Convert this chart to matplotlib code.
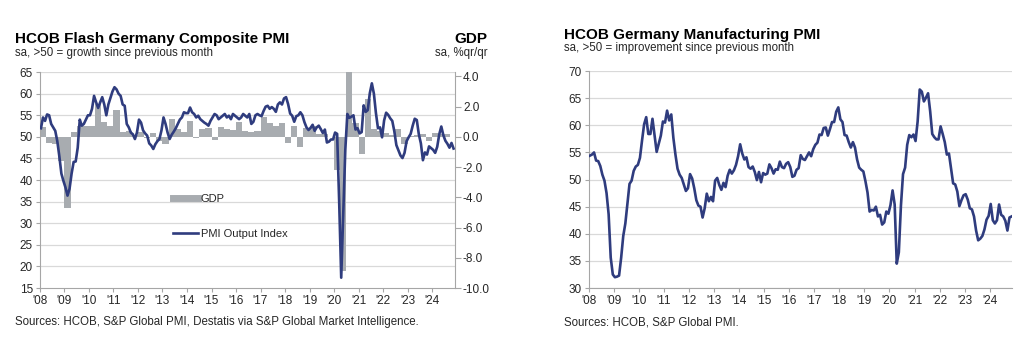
import numpy as np
import matplotlib
matplotlib.use("Agg")
import matplotlib.pyplot as plt
from matplotlib.lines import Line2D

plt.rcParams['font.family'] = ['Liberation Sans', 'DejaVu Sans']
plt.rcParams['axes.unicode_minus'] = False

# Composite PMI output index, monthly Jan 2008 - Nov 2024
composite = [
    52.0, 54.5, 53.7, 55.2, 55.0, 53.0, 52.2, 51.4, 49.0, 45.5, 41.5, 39.8,  # 2008
    38.3, 36.4, 38.0, 41.5, 44.2, 44.3, 47.5, 54.0, 52.6, 53.0, 54.0, 55.0,  # 2009
    55.0, 56.5, 59.5, 58.0, 56.7, 58.0, 59.2, 57.5, 55.0, 57.5, 59.0, 60.5,  # 2010
    61.5, 61.0, 60.0, 59.5, 57.5, 57.2, 53.0, 52.2, 51.0, 50.6, 49.5, 51.0,  # 2011
    54.0, 53.3, 51.5, 50.8, 50.3, 48.5, 48.0, 47.2, 48.3, 49.0, 49.5, 51.5,  # 2012
    54.5, 53.0, 51.0, 49.5, 50.5, 51.2, 52.0, 53.0, 54.0, 54.5, 55.7, 55.5,  # 2013
    55.5, 56.8, 55.7, 55.3, 54.5, 54.9, 54.1, 53.7, 53.3, 53.0, 52.6, 53.7,  # 2014
    54.5, 55.3, 55.0, 54.1, 54.5, 54.9, 55.3, 54.5, 54.9, 54.1, 55.3, 54.9,  # 2015
    54.5, 54.1, 54.5, 55.3, 54.9, 54.5, 55.3, 53.0, 53.5, 55.0, 55.3, 55.0,  # 2016
    54.8, 56.0, 57.0, 57.2, 56.5, 56.9, 56.5, 55.8, 57.5, 58.0, 57.5, 58.9,  # 2017
    59.2, 57.6, 55.4, 54.9, 53.5, 54.8, 55.0, 55.7, 55.0, 53.4, 52.2, 51.6,  # 2018
    52.1, 52.8, 51.4, 52.2, 52.6, 51.8, 50.9, 51.7, 48.7, 48.9, 49.4, 49.4,  # 2019
    51.0, 50.7, 35.0, 17.4, 32.3, 47.0, 55.3, 54.4, 54.7, 55.0, 51.7, 52.0,  # 2020
    50.8, 51.1, 57.3, 55.8, 56.2, 60.1, 62.4, 60.0, 55.5, 52.0, 52.2, 49.9,  # 2021
    53.8, 55.6, 55.1, 54.3, 53.7, 51.3, 48.1, 46.9, 45.7, 45.1, 46.3, 49.0,  # 2022
    49.9, 50.7, 52.6, 54.2, 53.9, 50.6, 48.5, 44.6, 46.4, 45.9, 47.8, 47.4,  # 2023
    47.0, 46.3, 47.7, 50.6, 52.4, 50.4, 49.1, 48.4, 47.5, 48.6, 47.3,        # 2024
]

# GDP, % q/q, Q1 2008 - Q3 2024
gdp = [
    0.65, -0.4, -0.5, -1.6,
    -4.7, 0.3, 0.7, 0.7,
    0.7, 2.2, 1.0, 0.7,
    1.8, 0.3, 0.4, 0.1,
    0.3, -0.1, 0.25, -0.3,
    -0.5, 1.2, 0.55, 0.3,
    1.05, -0.1, 0.5, 0.6,
    -0.2, 0.65, 0.5, 0.45,
    1.0, 0.4, 0.3, 0.4,
    1.3, 0.9, 0.75, 0.95,
    -0.4, 0.7, -0.65, 0.6,
    0.7, 0.2, 0.2, 0.0,
    -2.2, -8.9, 8.6, 0.9,
    -1.1, 2.5, 0.5, 0.4,
    0.25, 0.1, 0.5, -0.45,
    0.05, 0.1, 0.2, -0.3,
    0.25, 0.2, 0.2,
]

# Manufacturing PMI, monthly Jan 2008 - Nov 2024
manufacturing = [
    54.4, 54.6, 55.0, 53.5, 53.4, 52.5, 50.9, 49.8, 47.5, 43.6, 35.6, 32.5,  # 2008
    32.0, 32.1, 32.3, 35.6, 39.6, 41.9, 45.6, 49.2, 49.8, 51.6, 52.4, 52.7,  # 2009
    54.0, 57.2, 60.2, 61.5, 58.4, 58.4, 61.2, 58.2, 55.1, 56.6, 58.1, 60.7,  # 2010
    60.5, 62.7, 60.9, 62.0, 57.7, 54.6, 52.0, 50.9, 50.3, 49.1, 47.9, 48.4,  # 2011
    51.0, 50.2, 48.4, 46.2, 45.2, 45.0, 43.0, 44.7, 47.4, 46.0, 46.8, 46.0,  # 2012
    49.8, 50.3, 49.0, 48.1, 49.4, 48.6, 50.7, 51.8, 51.1, 51.7, 52.7, 54.3,  # 2013
    56.5, 54.8, 53.7, 54.1, 52.3, 52.0, 52.4, 51.4, 49.9, 51.4, 49.5, 51.2,  # 2014
    50.9, 51.1, 52.8, 52.1, 51.1, 51.9, 51.8, 53.3, 52.3, 52.1, 52.9, 53.2,  # 2015
    52.3, 50.5, 50.7, 51.8, 52.1, 54.5, 53.8, 53.6, 54.3, 55.0, 54.3, 55.6,  # 2016
    56.4, 56.8, 58.3, 58.2, 59.5, 59.6, 58.1, 59.3, 60.6, 60.6, 62.5, 63.3,  # 2017
    61.1, 60.6, 58.2, 58.1, 56.9, 55.9, 56.9, 55.9, 53.7, 52.2, 51.8, 51.5,  # 2018
    49.7, 47.6, 44.1, 44.4, 44.3, 45.0, 43.2, 43.5, 41.7, 42.1, 44.1, 43.7,  # 2019
    45.3, 48.0, 45.4, 34.5, 36.6, 45.2, 51.0, 52.2, 56.4, 58.2, 57.8, 58.3,  # 2020
    57.1, 60.7, 66.6, 66.2, 64.4, 65.1, 65.9, 62.6, 58.4, 57.8, 57.4, 57.4,  # 2021
    59.8, 58.4, 56.9, 54.6, 54.8, 52.0, 49.3, 49.1, 47.8, 45.1, 46.2, 47.1,  # 2022
    47.3, 46.3, 44.7, 44.5, 43.2, 40.6, 38.8, 39.1, 39.6, 40.8, 42.6, 43.3,  # 2023
    45.5, 42.5, 41.9, 42.5, 45.4, 43.5, 43.2, 42.4, 40.6, 43.0, 43.2,        # 2024
]

years = list(range(2008, 2025))
year_labels = ["'%02d" % (y % 100) for y in years]

months = 2008 + (np.arange(len(composite)) + 0.5) / 12
quarters = 2008 + (np.arange(len(gdp)) + 0.5) / 4

NAVY = '#2f3c7e'
BAR = '#a8acb0'
GRID = '#d9d9d9'
SPINE = '#a6a6a6'
TXT = '#262626'

fig = plt.figure(figsize=(10.24, 3.5), dpi=100)


def style_axis(ax):
    for side in ['top', 'right']:
        ax.spines[side].set_visible(False)
    for side in ['left', 'bottom']:
        ax.spines[side].set_color(SPINE)
    ax.tick_params(axis='both', colors=SPINE, labelcolor=TXT, labelsize=8.5,
                   length=3, width=0.8, pad=2)
    ax.set_xticks(years)
    ax.set_xticklabels(year_labels)
    ax.set_xlim(2008, 2024.92)


# ---- left: composite PMI + GDP ----
ax1 = fig.add_axes([0.039, 0.177, 0.405, 0.617])
ax_g = ax1.twinx()
ax1.set_zorder(ax_g.get_zorder() + 1)
ax1.patch.set_visible(False)

ax_g.bar(quarters, gdp, width=0.25, color=BAR, zorder=2)
ax_g.set_ylim(-10, 30 / 7)
gdp_ticks = [4, 2, 0, -2, -4, -6, -8, -10]
ax_g.set_yticks(gdp_ticks)
ax_g.set_yticklabels(['%.1f' % v for v in gdp_ticks])
ax_g.yaxis.set_minor_locator(matplotlib.ticker.FixedLocator(np.linspace(-10, 30 / 7, 11)))
ax_g.grid(True, which='minor', axis='y', color=GRID, lw=0.9, zorder=0)
ax_g.tick_params(which='minor', length=0)
ax_g.set_axisbelow(True)
for side in ['top', 'left', 'bottom']:
    ax_g.spines[side].set_visible(False)
ax_g.spines['right'].set_color(SPINE)
ax_g.tick_params(axis='y', colors=SPINE, labelcolor=TXT, labelsize=8.5,
                 length=4, width=0.8, pad=2)

ax1.plot(months, composite, color=NAVY, lw=1.9, zorder=3)
ax1.set_ylim(15, 65)
ax1.set_yticks(range(15, 70, 5))
style_axis(ax1)

handles = [Line2D([], [], color=BAR, lw=5), Line2D([], [], color=NAVY, lw=1.9)]
ax1.legend(handles, ['GDP', 'PMI Output Index'], loc='center left',
           bbox_to_anchor=(0.322, 0.331), frameon=False, fontsize=8,
           labelspacing=2.3, handlelength=2.2, handletextpad=0.25,
           borderpad=0, borderaxespad=0, labelcolor=TXT)

fig.text(0.0146, 0.876, 'HCOB Flash Germany Composite PMI', fontsize=11,
         fontweight='bold', color='black', va='baseline')
fig.text(0.0146, 0.839, 'sa, >50 = growth since previous month', fontsize=8.3,
         color=TXT, va='baseline')
fig.text(0.476, 0.876, 'GDP', fontsize=11, fontweight='bold', color='black',
         va='baseline', ha='right')
fig.text(0.476, 0.839, 'sa, %qr/qr', fontsize=8.3, color=TXT, va='baseline',
         ha='right')
fig.text(0.0146, 0.071, 'Sources: HCOB, S&P Global PMI, Destatis via S&P Global Market Intelligence.',
         fontsize=8.3, color=TXT, va='baseline')

# ---- right: manufacturing PMI ----
ax2 = fig.add_axes([0.575, 0.177, 0.413, 0.62])
ax2.plot(months, manufacturing, color=NAVY, lw=1.9, zorder=3)
ax2.set_ylim(30, 70)
ax2.set_yticks(range(30, 75, 5))
ax2.grid(True, axis='y', color=GRID, lw=0.9, zorder=0)
ax2.set_axisbelow(True)
style_axis(ax2)
ax2.set_xlim(2008, 2024.88)

fig.text(0.5505, 0.888, 'HCOB Germany Manufacturing PMI', fontsize=11,
         fontweight='bold', color='black', va='baseline')
fig.text(0.5505, 0.854, 'sa, >50 = improvement since previous month',
         fontsize=8.3, color=TXT, va='baseline')
fig.text(0.5505, 0.071, 'Sources: HCOB, S&P Global PMI.', fontsize=8.3,
         color=TXT, va='baseline')

fig.savefig('out.png', dpi=100)
